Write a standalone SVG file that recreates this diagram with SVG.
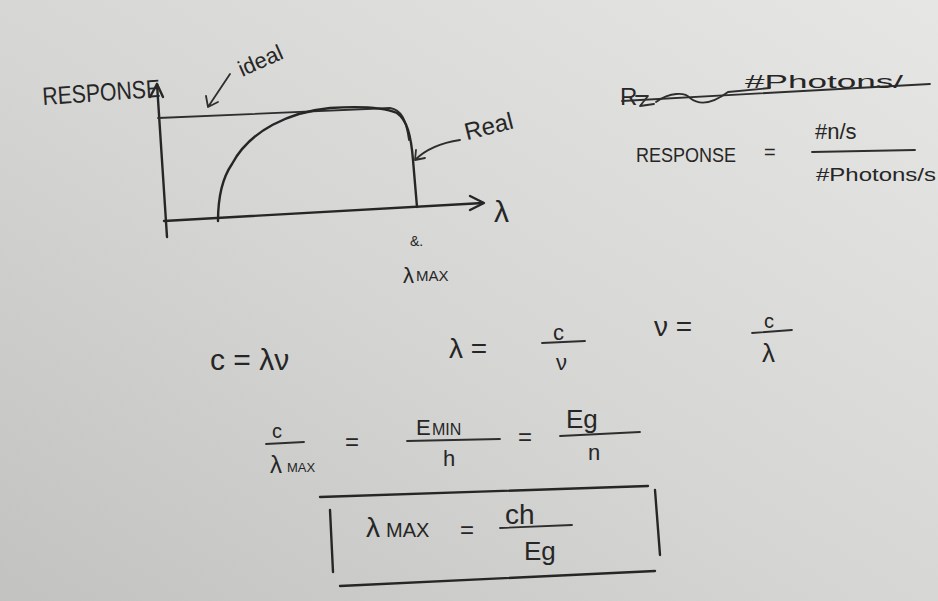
<svg xmlns="http://www.w3.org/2000/svg" width="938" height="601" viewBox="0 0 938 601">
<defs>
<linearGradient id="bg" x1="0" y1="1" x2="1" y2="0">
<stop offset="0" stop-color="#c2c2c0"/>
<stop offset="0.45" stop-color="#d5d5d3"/>
<stop offset="1" stop-color="#e6e6e4"/>
</linearGradient>
<style>
.ink{fill:none;stroke:#262626;stroke-width:2.4;stroke-linecap:round;stroke-linejoin:round}
.thin{fill:none;stroke:#2e2e2e;stroke-width:1.8;stroke-linecap:round;stroke-linejoin:round}
text{font-family:"Liberation Sans","DejaVu Sans",sans-serif;fill:#262626}
</style>
</defs>
<rect width="938" height="601" fill="url(#bg)"/>

<g id="graph">
<path class="ink" d="M157 84 L167 237"/>
<path class="ink" d="M150 97 L157 84 L163 97"/>
<path class="ink" d="M164 221 L483 203"/>
<path class="ink" d="M470 196 L484 203 L470 210"/>
<path class="thin" d="M158 118 L390 108 C402 110 406 120 409 140"/>
<path class="ink" d="M218 221 C218 200 221 180 232 164 C250 130 290 112 330 108 C360 106 385 108 397 113 C407 120 411 135 413 160 L417 207"/>
<text x="42" y="101" font-size="25" textLength="118" lengthAdjust="spacingAndGlyphs" transform="rotate(-4 100 90)">RESPONSE</text>
<text x="236" y="68" font-size="22" transform="rotate(-24 260 58)">ideal</text>
<path class="thin" d="M230 74 L208 107 M206 96 L208 107 L218 102"/>
<text x="463" y="134" font-size="24" transform="rotate(-14 490 122)">Real</text>
<path class="thin" d="M460 140 C440 143 425 150 415 160 M416 150 L415 160 L425 158"/>
<text x="494" y="222" font-size="30">λ</text>
<text x="410" y="246" font-size="14">&amp;.</text>
<text x="403" y="283" font-size="22">λ</text>
<text x="416" y="281" font-size="15">MAX</text>
</g>

<g id="response-def">
<text x="620" y="105" font-size="24">R</text>
<path class="thin" d="M636 96 L648 96 L640 106 L654 104 M656 102 C670 92 685 92 690 98 C700 106 712 104 728 92 L770 88"/>
<path class="thin" d="M622 101 L930 84"/>
<text x="745" y="88" font-size="18" textLength="158" lengthAdjust="spacingAndGlyphs">#Photons/</text>
<text x="636" y="162" font-size="20" textLength="100" lengthAdjust="spacingAndGlyphs">RESPONSE</text>
<text x="764" y="159" font-size="20">=</text>
<text x="815" y="139" font-size="22">#n/s</text>
<path class="thin" d="M812 152 L915 150"/>
<text x="816" y="181" font-size="18" textLength="120" lengthAdjust="spacingAndGlyphs">#Photons/s</text>
</g>

<g id="equations">
<text x="210" y="370" font-size="30">c = λν</text>
<text x="449" y="358" font-size="28">λ =</text>
<text x="553" y="340" font-size="22">c</text>
<path class="thin" d="M542 343 L585 341"/>
<text x="556" y="370" font-size="22">ν</text>
<text x="654" y="336" font-size="28">ν =</text>
<text x="764" y="328" font-size="20">c</text>
<path class="thin" d="M752 333 L792 330"/>
<text x="762" y="362" font-size="26">λ</text>

<text x="272" y="438" font-size="20">c</text>
<path class="thin" d="M266 444 L304 442"/>
<text x="270" y="473" font-size="24">λ</text>
<text x="287" y="472" font-size="13">MAX</text>
<text x="345" y="450" font-size="24">=</text>
<text x="416" y="435" font-size="22">E</text>
<text x="432" y="435" font-size="16">MIN</text>
<path class="thin" d="M407 441 L500 439"/>
<text x="443" y="466" font-size="22">h</text>
<text x="518" y="445" font-size="24">=</text>
<text x="566" y="428" font-size="26">Eg</text>
<path class="thin" d="M560 436 L640 432"/>
<text x="588" y="460" font-size="22">n</text>
</g>

<g id="result-box">
<path class="ink" d="M320 497 L648 486"/>
<path class="ink" d="M330 510 L333 572"/>
<path class="ink" d="M655 490 L660 555"/>
<path class="ink" d="M340 586 L655 571"/>
<text x="366" y="537" font-size="28">λ</text>
<text x="386" y="537" font-size="20">MAX</text>
<text x="460" y="538" font-size="24">=</text>
<text x="505" y="524" font-size="28">ch</text>
<path class="thin" d="M500 528 L572 525"/>
<text x="524" y="560" font-size="26">Eg</text>
</g>
</svg>
